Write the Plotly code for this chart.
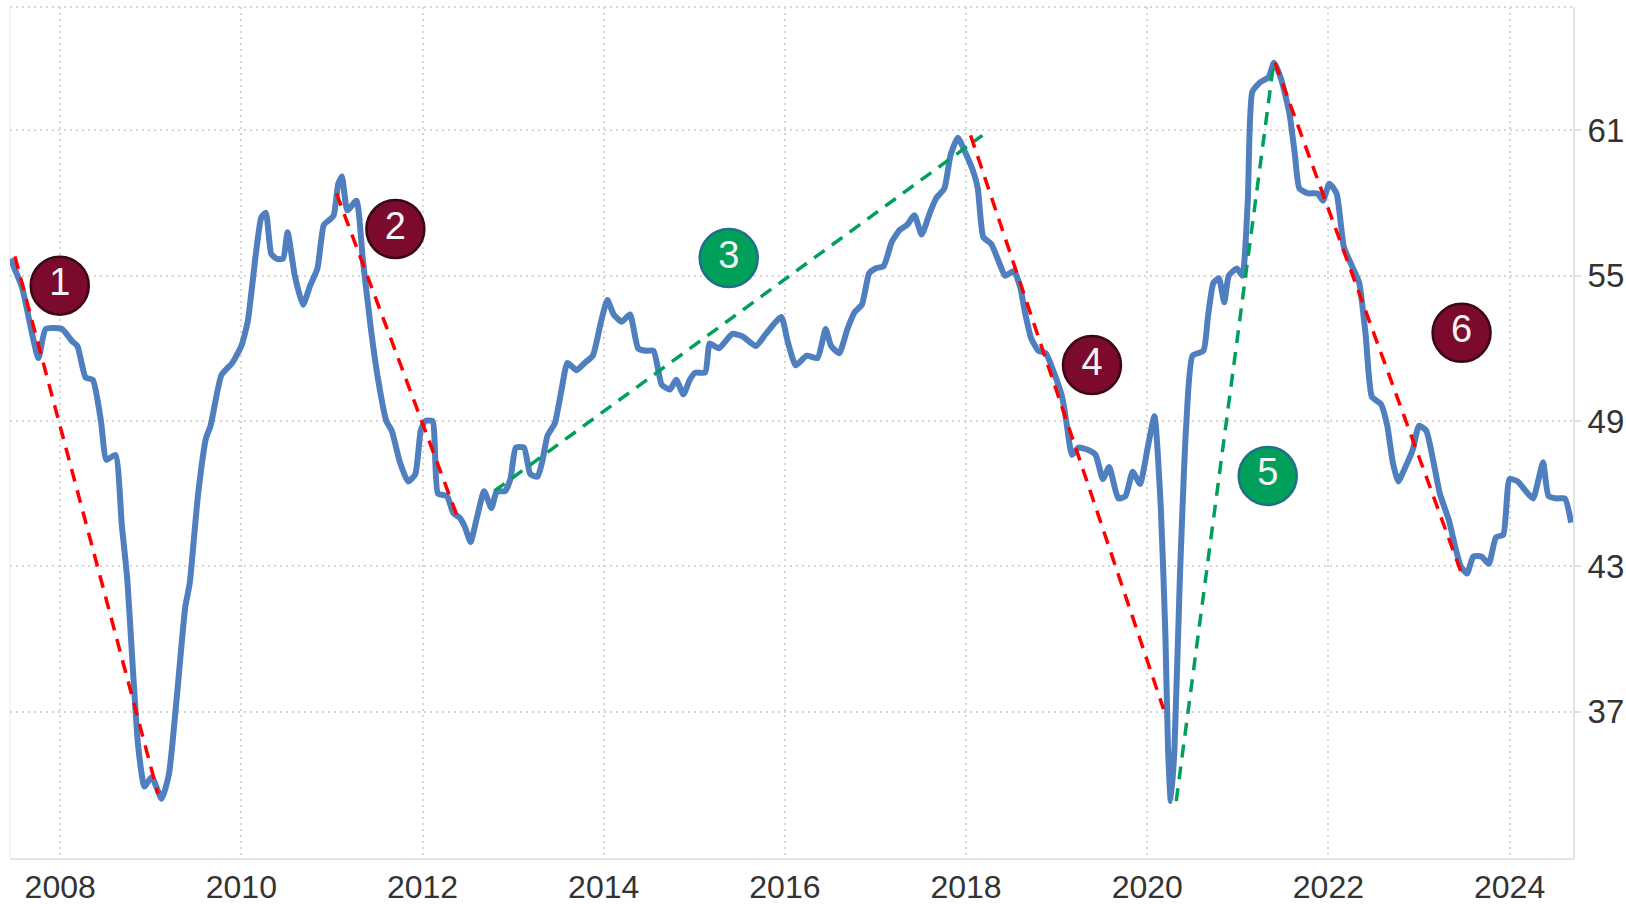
import plotly.graph_objects as go

# ---- data ----
years = [2007.45, 2007.58, 2007.76, 2007.84, 2008.02, 2008.13, 2008.19, 2008.28, 2008.36, 2008.45,
         2008.51, 2008.61, 2008.68, 2008.74, 2008.80, 2008.86, 2008.93, 2009.01, 2009.12, 2009.20,
         2009.29, 2009.38, 2009.43, 2009.52, 2009.61, 2009.66, 2009.78, 2009.90, 2010.00, 2010.07,
         2010.16, 2010.22, 2010.27, 2010.33, 2010.39, 2010.46, 2010.51, 2010.59, 2010.68, 2010.76,
         2010.84, 2010.91, 2010.97, 2011.02, 2011.07, 2011.11, 2011.17, 2011.27, 2011.34, 2011.43,
         2011.51, 2011.60, 2011.66, 2011.75, 2011.84, 2011.92, 2011.98, 2012.03, 2012.11, 2012.17,
         2012.27, 2012.34, 2012.41, 2012.47, 2012.53, 2012.60, 2012.68, 2012.76, 2012.82, 2012.91,
         2012.97, 2013.03, 2013.12, 2013.19, 2013.27, 2013.32, 2013.38, 2013.46, 2013.53, 2013.60,
         2013.70, 2013.79, 2013.88, 2013.97, 2014.04, 2014.11, 2014.20, 2014.29, 2014.38, 2014.46,
         2014.55, 2014.64, 2014.73, 2014.80, 2014.88, 2014.95, 2015.01, 2015.12, 2015.17, 2015.27,
         2015.42, 2015.53, 2015.68, 2015.79, 2015.96, 2016.03, 2016.12, 2016.24, 2016.36, 2016.45,
         2016.51, 2016.60, 2016.69, 2016.77, 2016.85, 2016.93, 2017.00, 2017.09, 2017.18, 2017.27,
         2017.35, 2017.43, 2017.51, 2017.60, 2017.67, 2017.76, 2017.83, 2017.91, 2017.99, 2018.08,
         2018.13, 2018.19, 2018.28, 2018.38, 2018.43, 2018.53, 2018.60, 2018.65, 2018.72, 2018.80,
         2018.88, 2018.97, 2019.06, 2019.11, 2019.17, 2019.24, 2019.35, 2019.43, 2019.51, 2019.58,
         2019.68, 2019.76, 2019.84, 2019.92, 2020.01, 2020.08, 2020.15, 2020.20, 2020.23, 2020.26,
         2020.30, 2020.36, 2020.43, 2020.50, 2020.62, 2020.67, 2020.73, 2020.79, 2020.85, 2020.90,
         2020.99, 2021.05, 2021.11, 2021.16, 2021.25, 2021.34, 2021.40, 2021.48, 2021.57, 2021.63,
         2021.68, 2021.78, 2021.88, 2021.94, 2022.01, 2022.09, 2022.17, 2022.26, 2022.34, 2022.41,
         2022.48, 2022.58, 2022.65, 2022.71, 2022.77, 2022.85, 2022.93, 2023.00, 2023.08, 2023.16,
         2023.23, 2023.33, 2023.40, 2023.46, 2023.53, 2023.60, 2023.69, 2023.77, 2023.85, 2023.93,
         2024.00, 2024.09, 2024.18, 2024.26, 2024.32, 2024.37, 2024.43, 2024.52, 2024.61, 2024.68]
pmi = [55.7, 54.5, 51.6, 52.8, 52.8, 52.3, 52.1, 50.8, 50.7, 49.0,
       47.4, 47.6, 44.7, 42.5, 38.9, 35.6, 33.9, 34.3, 33.4, 34.4,
       37.7, 41.3, 42.3, 45.9, 48.3, 48.8, 50.9, 51.4, 52.1, 53.1,
       55.9, 57.4, 57.6, 55.9, 55.7, 55.7, 56.8, 55.0, 53.8, 54.6,
       55.3, 57.1, 57.3, 57.5, 58.8, 59.1, 57.7, 58.1, 55.7, 52.8,
       50.7, 49.0, 48.6, 47.3, 46.5, 46.8, 48.6, 49.0, 49.0, 46.0,
       45.9, 45.2, 45.0, 44.6, 44.0, 45.0, 46.1, 45.4, 46.1, 46.1,
       46.6, 47.9, 47.9, 46.8, 46.7, 47.3, 48.4, 48.9, 50.2, 51.4,
       51.1, 51.4, 51.7, 53.1, 54.0, 53.4, 53.1, 53.4, 52.0, 51.9,
       51.9, 50.5, 50.3, 50.7, 50.1, 50.7, 51.0, 51.0, 52.2, 52.0,
       52.6, 52.5, 52.1, 52.6, 53.3, 52.3, 51.3, 51.7, 51.6, 52.8,
       52.1, 51.8, 52.8, 53.5, 53.8, 55.1, 55.3, 55.4, 56.4, 56.9,
       57.1, 57.5, 56.7, 57.6, 58.2, 58.6, 60.0, 60.7, 60.1, 59.3,
       58.6, 56.6, 56.3, 55.4, 55.0, 55.2, 54.5, 53.5, 52.4, 51.9,
       51.8, 51.0, 50.0, 48.9, 47.6, 47.9, 47.8, 47.6, 46.6, 47.1,
       45.8, 45.9, 46.9, 46.4, 48.0, 49.2, 45.4, 40.2, 35.4, 33.3,
       35.4, 42.5, 48.8, 51.7, 51.9, 53.3, 54.7, 54.9, 53.9, 55.0,
       55.3, 55.0, 58.1, 62.6, 63.0, 63.2, 63.8, 63.1, 61.7, 60.0,
       58.6, 58.4, 58.4, 58.1, 58.8, 58.4, 56.2, 55.4, 54.7, 52.6,
       50.0, 49.7, 48.8, 47.3, 46.5, 47.1, 47.8, 48.8, 48.6, 47.3,
       46.0, 44.9, 43.8, 43.0, 42.7, 43.4, 43.4, 43.1, 44.2, 44.3,
       46.6, 46.5, 46.1, 45.8, 46.6, 47.3, 45.9, 45.8, 45.8, 44.8]

# trend lines: [start, end]
trend1_x, trend1_y = [2007.50, 2009.08], [55.8, 33.6]
trend2_x, trend2_y = [2011.05, 2012.41], [58.4, 44.8]
trend3_x, trend3_y = [2012.79, 2018.18], [46.1, 60.8]
trend4_x, trend4_y = [2018.05, 2020.18], [60.8, 37.1]
trend5_x, trend5_y = [2020.32, 2021.40], [33.3, 63.9]
trend6_x, trend6_y = [2021.41, 2023.47], [63.8, 42.7]
trend_colors = ["red", "red", "green", "red", "green", "red"]

# numbered phase labels
label_x = [2007.995, 2011.70, 2015.38, 2019.39, 2021.33, 2023.47]
label_y = [54.59, 56.93, 55.73, 51.31, 46.73, 52.64]
label_text = ["1", "2", "3", "4", "5", "6"]
label_kind = ["down", "down", "up", "down", "up", "down"]

tick_years = [2008, 2010, 2012, 2014, 2016, 2018, 2020, 2022, 2024]
tick_labels = [str(t) for t in tick_years]
y_ticks = [37, 43, 49, 55, 61]

# ---- styles ----
RED = "#FF0000"
GREEN = "#00A05A"
MAROON = "#7B0A2C"
MAROON_EDGE = "#3A0714"
GREEN_FILL = "#00A05A"
GREEN_EDGE = "#1F6E8C"
BLUE = "#4F7FBE"
FONT = "Liberation Sans, Arial, sans-serif"

fig = go.Figure()

fig.add_trace(go.Scatter(
    x=years, y=pmi, mode="lines",
    line=dict(color=BLUE, width=6, shape="spline", smoothing=0.5),
    hoverinfo="x+y", showlegend=False,
))

trends = [(trend1_x, trend1_y), (trend2_x, trend2_y), (trend3_x, trend3_y),
          (trend4_x, trend4_y), (trend5_x, trend5_y), (trend6_x, trend6_y)]
for (tx, ty), c in zip(trends, trend_colors):
    fig.add_trace(go.Scatter(
        x=tx, y=ty, mode="lines",
        line=dict(color=RED if c == "red" else GREEN, width=3.5, dash="13px,9px"),
        showlegend=False, hoverinfo="skip",
    ))

fills = [MAROON if k == "down" else GREEN_FILL for k in label_kind]
edges = [MAROON_EDGE if k == "down" else GREEN_EDGE for k in label_kind]
fig.add_trace(go.Scatter(
    x=label_x, y=label_y, mode="markers+text", text=label_text,
    textposition="middle center",
    textfont=dict(family=FONT, size=38, color="#F4F4F4"),
    marker=dict(size=58, color=fills, line=dict(color=edges, width=2.5)),
    showlegend=False, hoverinfo="skip",
))

fig.update_layout(
    width=1626, height=904,
    margin=dict(l=10, r=53, t=7, b=46, autoexpand=False),
    paper_bgcolor="white", plot_bgcolor="white",
    font=dict(family=FONT, size=32, color="#333333"),
    showlegend=False,
)
fig.update_xaxes(
    range=[2007.446, 2024.70], automargin=False,
    tickvals=tick_years, ticktext=tick_labels,
    showgrid=True, gridcolor="#D6D6D6", gridwidth=2, griddash="2px,4px",
    showline=True, linecolor="#E3E3E3", linewidth=2,
    ticks="", zeroline=False,
    tickfont=dict(family=FONT, size=32, color="#333333"),
)
fig.update_yaxes(
    side="right", range=[30.95, 66.1], automargin=False,
    tickvals=y_ticks,
    showgrid=True, gridcolor="#D6D6D6", gridwidth=2, griddash="2px,4px",
    showline=True, linecolor="#E3E3E3", linewidth=2,
    ticks="outside", ticklen=6, tickcolor="#E3E3E3", tickwidth=2,
    zeroline=False,
    tickfont=dict(family=FONT, size=33, color="#333333"),
)
fig.add_shape(type="line", xref="paper", yref="paper", x0=0, x1=1, y0=1, y1=1,
              line=dict(color="#D6D6D6", width=2, dash="2px,4px"), layer="below")
fig.add_shape(type="line", xref="paper", yref="paper", x0=0, x1=0, y0=0, y1=1,
              line=dict(color="#EDEDED", width=1), layer="below")

fig.write_html("out.html", config={"displayModeBar": False},
               post_script="document.body.style.margin='0';document.body.style.overflow='hidden';")
